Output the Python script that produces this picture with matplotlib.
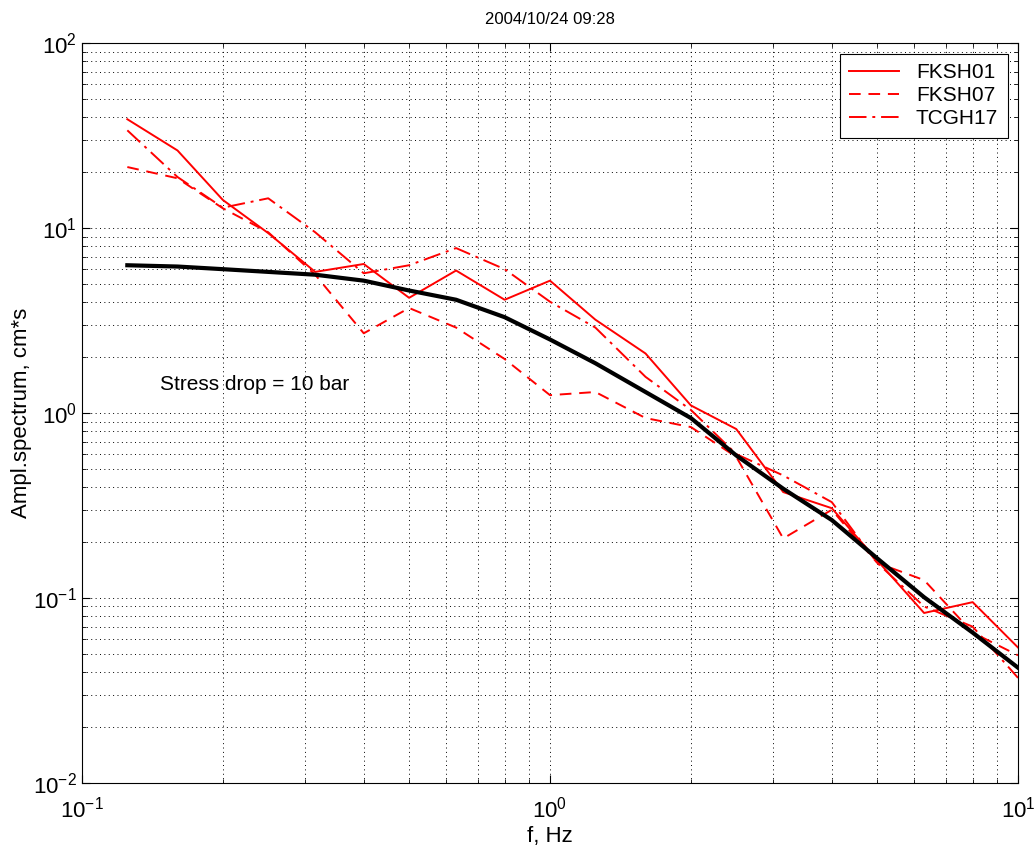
import matplotlib
matplotlib.use("Agg")
import matplotlib.pyplot as plt
from matplotlib.ticker import LogLocator, NullFormatter

plt.rcParams['font.family'] = ['Liberation Sans', 'DejaVu Sans']
plt.rcParams['mathtext.fontset'] = 'custom'
plt.rcParams['mathtext.rm'] = 'Liberation Sans'

freq = [0.125, 0.16, 0.2, 0.25, 0.315, 0.4, 0.5, 0.63, 0.8, 1.0,
        1.25, 1.6, 2.0, 2.5, 3.15, 4.0, 5.0, 6.3, 8.0, 10.0]
fksh01 = [38.8, 26.3, 14.2, 9.4, 5.8, 6.4, 4.2, 5.9, 4.1, 5.2,
          3.2, 2.1, 1.1, 0.82, 0.374, 0.306, 0.16, 0.083, 0.095, 0.054]
fksh07 = [21.4, 18.6, 12.8, 9.5, 5.6, 2.7, 3.7, 2.9, 1.96, 1.25,
          1.3, 0.94, 0.84, 0.58, 0.21, 0.3, 0.155, 0.125, 0.065, 0.049]
tcgh17 = [33.8, 18.9, 12.9, 14.5, 9.5, 5.7, 6.3, 7.8, 6.0, 4.0,
          2.9, 1.57, 1.04, 0.6, 0.46, 0.33, 0.155, 0.09, 0.07, 0.037]
model = [6.3, 6.2, 6.0, 5.8, 5.6, 5.2, 4.6, 4.1, 3.3, 2.5,
         1.86, 1.3, 0.94, 0.59, 0.39, 0.264, 0.164, 0.101, 0.065, 0.042]

fig = plt.figure(figsize=(10.35, 8.47), dpi=100)
ax = fig.add_axes([0.0792, 0.0756, 0.9044, 0.8734])

ax.plot(freq, fksh01, color='red', lw=1.4, ls='-', label='FKSH01')
ax.plot(freq, fksh07, color='red', lw=1.4, ls=(0, (6, 4)), label='FKSH07')
ax.plot(freq, tcgh17, color='red', lw=1.4, ls=(0, (9, 3, 1.5, 3)), label='TCGH17')
ax.plot(freq, model, color='black', lw=3.0)

ax.set_xscale('log')
ax.set_yscale('log')
ax.set_xlim(0.1, 10)
ax.set_ylim(0.01, 100)

ax.xaxis.set_major_locator(LogLocator(base=10, numticks=10))
ax.yaxis.set_major_locator(LogLocator(base=10, numticks=10))
ax.xaxis.set_minor_locator(LogLocator(base=10, subs=range(2, 10), numticks=20))
ax.yaxis.set_minor_locator(LogLocator(base=10, subs=range(2, 10), numticks=20))
ax.xaxis.set_minor_formatter(NullFormatter())
ax.yaxis.set_minor_formatter(NullFormatter())

ax.grid(True, which='both', color='black', ls=(0, (1, 3.5)), lw=0.7)
ax.tick_params(which='both', direction='in', top=True, right=True, labelsize=16)
ax.tick_params(which='major', length=6)
ax.tick_params(which='minor', length=3)
ax.tick_params(axis='x', pad=10)

ax.set_xlabel('f, Hz', fontsize=16, labelpad=2)
ax.set_ylabel('Ampl.spectrum, cm*s', fontsize=16, labelpad=1)
ax.set_title('2004/10/24 09:28', fontsize=12, pad=14)

ax.text(0.147, 1.42, 'Stress drop = 10 bar', fontsize=15, va='center', ha='left')

leg = ax.legend(loc='upper right', fontsize=15, fancybox=False, framealpha=1,
                edgecolor='black', borderaxespad=0.5, handlelength=2.4,
                labelspacing=0.2, borderpad=0.45)
leg.get_frame().set_linewidth(0.8)

fig.savefig('out.png', dpi=100)
